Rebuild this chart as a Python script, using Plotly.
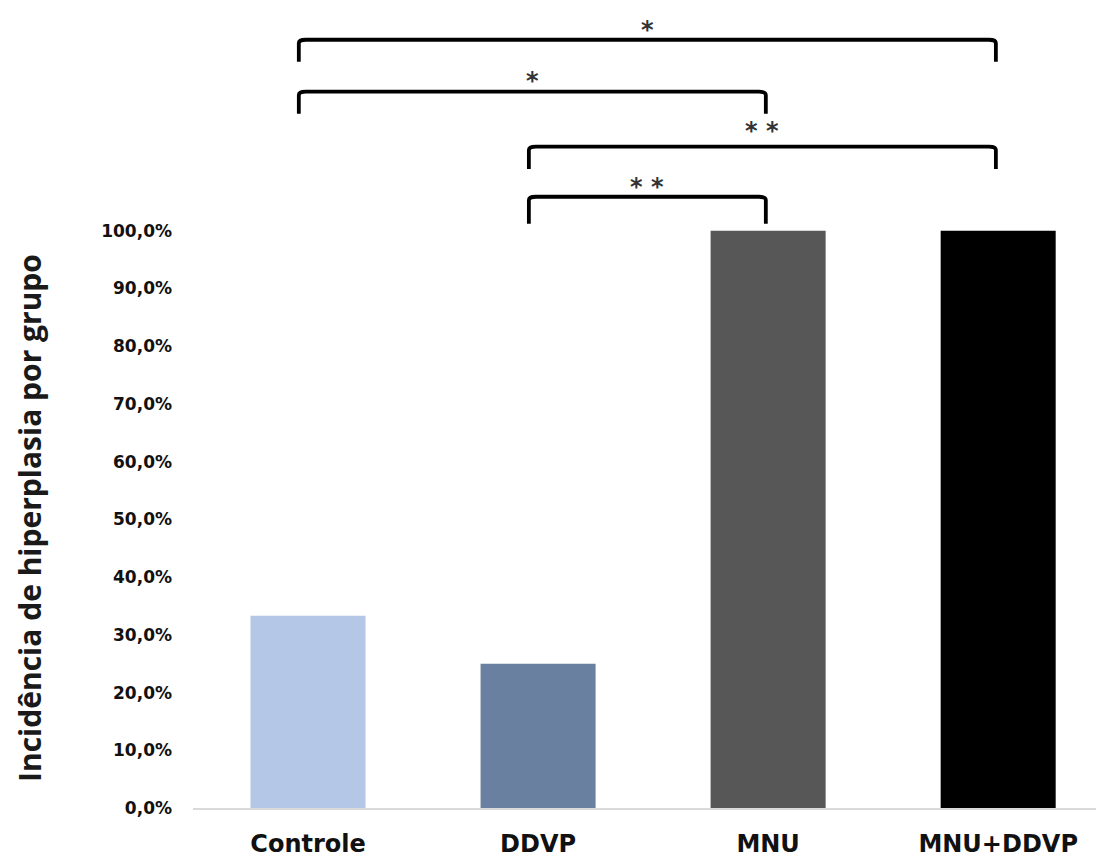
import plotly.graph_objects as go

categories = ["Controle", "DDVP", "MNU", "MNU+DDVP"]
values = [33.3, 25.0, 100.0, 100.0]
bar_colors = ["#b4c7e7", "#6a80a1", "#575757", "#000000"]
tick_values = [0, 10, 20, 30, 40, 50, 60, 70, 80, 90, 100]
tick_labels = [f"{v:.1f}".replace(".", ",") + "%" for v in tick_values]

# significance brackets: (left category index, right category index, bar level, label)
bracket_left = [0, 0, 1, 1]
bracket_right = [3, 2, 3, 2]
bracket_level = [133.1, 124.1, 114.6, 105.9]
bracket_drop = [3.8, 3.8, 3.9, 4.7]
bracket_label = ["*", "*", "* *", "* *"]
label_level = [134.8, 125.9, 117.3, 107.6]

# page body has an 8px margin, so the figure is sized to fill the rest of the window
W, H = 1096, 855
ml, mr, mt, mb = 185, 0, 0, 55

fig = go.Figure()
fig.add_trace(go.Bar(
    x=list(range(len(categories))), y=values,
    marker=dict(color=bar_colors, line=dict(width=0)),
    width=0.5,
))

shapes = []
annotations = []
for l, r, lev, d, lab, ly in zip(bracket_left, bracket_right, bracket_level, bracket_drop,
                                 bracket_label, label_level):
    xl = l - 0.04
    xr = r - 0.01
    path = (f"M {xl},{lev - d} L {xl},{lev - 0.6} Q {xl},{lev} {xl + 0.03},{lev} "
            f"L {xr - 0.03},{lev} Q {xr},{lev} {xr},{lev - 0.6} L {xr},{lev - d}")
    shapes.append(dict(type="path", xref="x", yref="y", path=path,
                       line=dict(color="#000000", width=3.8)))
    annotations.append(dict(x=(xl + xr) / 2, y=ly, xref="x", yref="y",
                            text=lab, showarrow=False, yanchor="middle", xanchor="center",
                            font=dict(family="DejaVu Sans", size=24, color="#333333", weight="bold")))

annotations.append(dict(x=(22 - ml) / (W - ml - mr),
                        y=1 - ((250 + 786) / 2 - 8 - mt) / (H - mt - mb),
                        xref="paper", yref="paper", xanchor="center", yanchor="middle",
                        text="Incidência de hiperplasia por grupo", showarrow=False,
                        textangle=-90,
                        font=dict(family="Open Sans", size=30, color="#1a1a1a", weight="bold")))

fig.update_layout(
    width=W, height=H,
    margin=dict(l=ml, r=mr, t=mt, b=mb, autoexpand=False),
    plot_bgcolor="white", paper_bgcolor="white",
    showlegend=False,
    shapes=shapes,
    annotations=annotations,
    xaxis=dict(
        range=[-0.5, 3.46], tickvals=list(range(len(categories))), ticktext=categories,
        showgrid=False, zeroline=False, showline=True, linecolor="#d9d9d9", linewidth=1.5,
        ticks="", automargin=False,
        tickfont=dict(family="DejaVu Sans", size=24, color="#111111", weight="bold"),
        ticklabelstandoff=13,
    ),
    yaxis=dict(
        range=[0, 138.6], tickvals=tick_values, ticktext=tick_labels,
        showgrid=False, zeroline=False, showline=False, ticks="", automargin=False,
        tickfont=dict(family="DejaVu Sans", size=17, color="#111111", weight="bold"),
        ticklabelstandoff=20,
    ),
)

fig.write_html("out.html")
